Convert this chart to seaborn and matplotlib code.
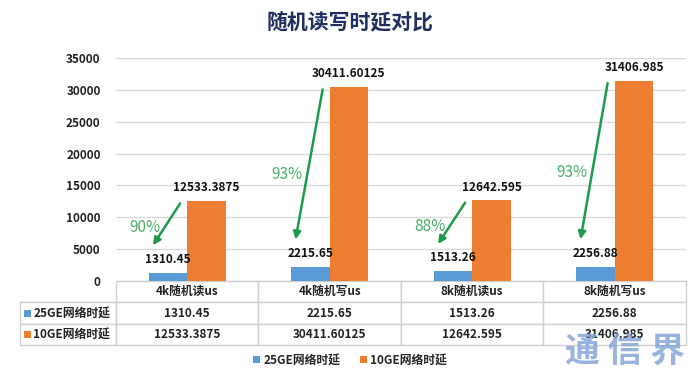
"""
Random read/write latency comparison: 25GE vs 10GE network
"""

import matplotlib
matplotlib.use('Agg')
import matplotlib.pyplot as plt
from matplotlib.patches import Rectangle
import seaborn as sns
import pandas as pd

sns.set_style("white")
plt.rcParams['font.family'] = ['Noto Sans CJK SC', 'DejaVu Sans']

# Data
categories = ['4k随机读us', '4k随机写us', '8k随机读us', '8k随机写us']
series_names = ['25GE网络时延', '10GE网络时延']
latency_25ge = [1310.45, 2215.65, 1513.26, 2256.88]
latency_10ge = [12533.3875, 30411.60125, 12642.595, 31406.985]
y_ticks = [0, 5000, 10000, 15000, 20000, 25000, 30000, 35000]

colors = ['#5b9bd5', '#ed7d31']
arrow_green = '#1e9a4a'
text_green = '#4aad68'

df = pd.DataFrame({
    'category': categories * 2,
    'latency': latency_25ge + latency_10ge,
    'network': [series_names[0]] * 4 + [series_names[1]] * 4,
})

fig = plt.figure(figsize=(7, 3.8), dpi=100)
ax = fig.add_axes([0.1657, 0.2605, 0.8143, 0.5868])

sns.barplot(data=df, x='category', y='latency', hue='network',
            palette=colors, width=0.54, saturation=1, ax=ax, legend=False,
            edgecolor='none')

ax.set_ylim(0, 35000)
ax.set_xlim(-0.5, 3.5)
ax.set_yticks(y_ticks)
ax.set_yticklabels([str(t) for t in y_ticks], fontsize=8.5,
                   fontweight='bold', color='#222222')
ax.tick_params(axis='y', length=0, pad=11)
ax.set_xticks([])
ax.set_xlabel('')
ax.set_ylabel('')
ax.yaxis.grid(True, color='#d9d9d9', linewidth=1)
ax.set_axisbelow(True)
for s in ax.spines.values():
    s.set_visible(False)

# Value labels above bars
for cont, vals in zip(ax.containers, [latency_25ge, latency_10ge]):
    ax.bar_label(cont, labels=[str(v) for v in vals], padding=5,
                 fontsize=8.5, fontweight='bold', color='#111111')

# Reduction arrows
for i, (lo, hi) in enumerate(zip(latency_25ge, latency_10ge)):
    start = (i - 0.05, hi - 350)
    end = (i - 0.24, lo + 4300)
    ax.annotate('', xy=end, xytext=start,
                arrowprops=dict(arrowstyle='-|>', color=arrow_green,
                                lw=1.8, mutation_scale=11, shrinkA=0, shrinkB=0))
    pct = round((1 - lo / hi) * 100)
    ty = start[1] - 0.57 * (start[1] - end[1])
    ax.text(i - 0.30, ty, f'{pct}%', ha='center', va='center',
            fontsize=11, color=text_green)

# Data table below the chart
ax_w = 0.8143 * 700
ax_h = 0.5868 * 380
label_w = 96
col_w = ax_w / 4
cell_text = [[''] + categories,
             [series_names[0]] + [str(v) for v in latency_25ge],
             [series_names[1]] + [str(v) for v in latency_10ge]]
tbl = ax.table(cellText=cell_text,
               colWidths=[label_w] + [col_w] * 4,
               cellLoc='center',
               bbox=[-label_w / ax_w, -64 / ax_h, (label_w + ax_w) / ax_w, 64 / ax_h])
tbl.auto_set_font_size(False)
for (r, c), cell in tbl.get_celld().items():
    cell.set_edgecolor('#d0d0d0')
    cell.set_linewidth(1)
    cell.get_text().set_fontsize(8.5)
    cell.get_text().set_fontweight('bold')
    cell.get_text().set_color('#222222')
    if r == 0 and c == 0:
        cell.visible_edges = 'B'
    if c == 0 and r > 0:
        cell.get_text().set_ha('left')
        cell.PAD = 0.14

# Colour squares in the row labels
row_h = 64 / 3
for k, col in enumerate(colors):
    yc = -64 + row_h * (1.5 - k)  # centre of row in px below axis
    ax.add_patch(Rectangle(((-label_w + 4) / ax_w, (yc - 3.5) / ax_h),
                           7 / ax_w, 7 / ax_h, transform=ax.transAxes,
                           facecolor=col, edgecolor='none', clip_on=False))

# Legend
handles = [Rectangle((0, 0), 1, 1, facecolor=c, edgecolor='none') for c in colors]
fig.legend(handles, series_names, loc='center', bbox_to_anchor=(0.5, 1 - 360 / 380),
           ncol=2, frameon=False, handlelength=0.6, handleheight=0.6,
           handletextpad=0.3, columnspacing=1.6,
           prop={'size': 8.5, 'weight': 'bold'})

# Title
fig.text(0.5, 1 - 22 / 380, '随机读写时延对比', ha='center', va='center',
         fontsize=15, fontweight='bold', color='#1f2f5f')

# Watermark
fig.text(625 / 700, 1 - 351 / 380, '通 信 界', ha='center', va='center',
         fontsize=25, fontweight='bold', color='#86a6d8', alpha=0.85)

fig.savefig('out.png', dpi=100)
